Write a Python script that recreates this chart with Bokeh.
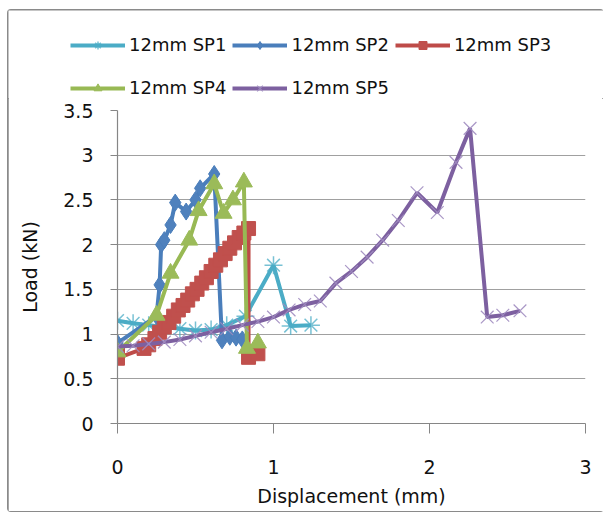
from bokeh.plotting import figure
from bokeh.layouts import column
from bokeh.models import Legend, LegendItem, Range1d, FixedTicker, NumeralTickFormatter
from bokeh.embed import file_html
from bokeh.resources import INLINE

# ---- data (Displacement mm, Load kN) ----
sp1_x = [0, 0.1, 0.2, 0.3, 0.4, 0.5, 0.6, 0.7, 0.82, 1.0, 1.11, 1.24]
sp1_y = [1.15, 1.12, 1.1, 1.08, 1.06, 1.04, 1.05, 1.1, 1.2, 1.77, 1.09, 1.1]

sp2_x = [0, 0.25, 0.27, 0.28, 0.3, 0.34, 0.37, 0.44, 0.5, 0.53, 0.62, 0.67, 0.72, 0.76, 0.8]
sp2_y = [0.9, 1.2, 1.55, 2.0, 2.05, 2.22, 2.47, 2.37, 2.5, 2.63, 2.79, 0.93, 0.97, 0.96, 0.94]

sp3_x = [0, 0, 0.17, 0.2, 0.24, 0.27, 0.3, 0.33, 0.36, 0.39, 0.42, 0.45, 0.48, 0.51, 0.54,
         0.57, 0.6, 0.63, 0.66, 0.69, 0.72, 0.75, 0.78, 0.81, 0.84, 0.84, 0.9]
sp3_y = [0.78, 0.73, 0.84, 0.88, 0.95, 1.02, 1.08, 1.13, 1.2, 1.27, 1.32, 1.38, 1.45, 1.5, 1.57,
         1.63, 1.7, 1.77, 1.83, 1.9, 1.96, 2.02, 2.08, 2.13, 2.18, 0.74, 0.78]

sp4_x = [0, 0.25, 0.34, 0.46, 0.52, 0.62, 0.68, 0.74, 0.81, 0.83, 0.9]
sp4_y = [0.8, 1.21, 1.68, 2.05, 2.38, 2.68, 2.35, 2.5, 2.7, 0.84, 0.9]

sp5_x = [0, 0.1, 0.2, 0.3, 0.4, 0.5, 0.6, 0.7, 0.8, 0.9, 1.0, 1.1, 1.2, 1.3, 1.4, 1.5,
         1.6, 1.7, 1.8, 1.92, 2.05, 2.17, 2.26, 2.37, 2.47, 2.58]
sp5_y = [0.86, 0.87, 0.89, 0.91, 0.94, 0.98, 1.02, 1.06, 1.1, 1.14, 1.19, 1.27, 1.33, 1.37, 1.57, 1.7,
         1.86, 2.05, 2.27, 2.58, 2.36, 2.92, 3.3, 1.19, 1.21, 1.26]

labels = ["12mm SP1", "12mm SP2", "12mm SP3", "12mm SP4", "12mm SP5"]
x_ticks = [0, 1, 2, 3]
y_ticks = [0, 0.5, 1, 1.5, 2, 2.5, 3, 3.5]

FONT = "DejaVu Sans"
LINE_W = 4

# ---- main plot ----
p = figure(width=595, height=413, output_backend="svg", toolbar_location=None,
           x_range=Range1d(0, 3), y_range=Range1d(0, 3.5),
           min_border_left=109, min_border_right=18, min_border_top=12, min_border_bottom=88)
p.frame_align = False
p.outline_line_color = None
p.xgrid.visible = False
p.ygrid.grid_line_color = "#a0a0a0"
p.ygrid.grid_line_width = 1.2
p.ygrid.ticker = FixedTicker(ticks=y_ticks)

p.xaxis.ticker = FixedTicker(ticks=x_ticks)
p.yaxis.ticker = FixedTicker(ticks=y_ticks)
p.yaxis.formatter = NumeralTickFormatter(format="0.[0]")
for ax in (p.xaxis[0], p.yaxis[0]):
    ax.axis_line_color = "#868686"
    ax.axis_line_width = 1.2
    ax.major_tick_line_color = "#868686"
    ax.major_tick_in = 0
    ax.minor_tick_line_color = None
    ax.major_label_text_font = FONT
    ax.major_label_text_font_size = "19px"
    ax.major_label_text_color = "#111111"
    ax.axis_label_text_font = FONT
    ax.axis_label_text_font_size = "19px"
    ax.axis_label_text_font_style = "normal"
    ax.axis_label_text_color = "#111111"
p.xaxis.major_tick_out = 10
p.xaxis.major_label_standoff = 26
p.xaxis.axis_label = "Displacement (mm)"
p.xaxis.axis_label_standoff = 8
p.yaxis.major_tick_out = 7
p.yaxis.major_label_standoff = 17
p.yaxis.axis_label = "Load (kN)"
p.yaxis.axis_label_standoff = 19

# style per series: line colour, marker, size, marker line colour, marker fill, marker line width, alpha
styles = [
    ("#4BACC6", "asterisk", 18, "#4BACC6", None, 1.5, 0.75),
    ("#4A7EBB", "diamond", 17, "#4A7EBB", "#4F81BD", 1, 1.0),
    ("#BE4B48", "square", 14, "#C0504D", "#C0504D", 1, 1.0),
    ("#98B954", "triangle", 17, "#9BBB59", "#9BBB59", 1, 1.0),
    ("#7D60A0", "x", 18, "#A08CC0", None, 1.2, 0.9),
]
data = [(sp1_x, sp1_y), (sp2_x, sp2_y), (sp3_x, sp3_y), (sp4_x, sp4_y), (sp5_x, sp5_y)]

for (xs, ys), (lc, mk, sz, mlc, mfc, mlw, malpha) in zip(data, styles):
    p.line(xs, ys, line_color=lc, line_width=LINE_W)
    p.scatter(xs, ys, marker=mk, size=sz, line_color=mlc, fill_color=mfc,
              line_width=mlw, line_alpha=malpha)

# ---- legend strip above the plot (series drawn off-screen, only the legend shows) ----
lf = figure(width=595, height=88, output_backend="svg", toolbar_location=None,
            x_range=Range1d(100, 101), y_range=Range1d(100, 101),
            x_axis_type=None, y_axis_type=None,
            min_border_left=0, min_border_right=0, min_border_top=0, min_border_bottom=0)
lf.frame_align = False
lf.outline_line_color = None
lf.xgrid.visible = False
lf.ygrid.visible = False

items = []
for lab, (xs, ys), (lc, mk, sz, mlc, mfc, mlw, malpha) in zip(labels, data, styles):
    l = lf.line(xs, ys, line_color=lc, line_width=LINE_W)
    s = lf.scatter(xs, ys, marker=mk, size=sz, line_color=mlc, fill_color=mfc,
                   line_width=mlw, line_alpha=malpha)
    items.append(LegendItem(label=lab, renderers=[l, s]))


def make_legend(its, vy):
    return Legend(items=its, orientation="horizontal", location=(62, vy),
                  glyph_width=55, glyph_height=20, label_height=20,
                  label_standoff=4, spacing=6, padding=0, margin=0,
                  border_line_color=None, background_fill_alpha=0,
                  label_text_font=FONT, label_text_font_size="18px",
                  label_text_color="#111111", label_text_baseline="middle")


lf.add_layout(make_legend(items[:3], 43))
lf.add_layout(make_legend(items[3:], 0))

layout = column(lf, p, spacing=0, margin=(10, 0, 3, 8),
                styles={"outline": "2px solid #8a8a8a", "outline-offset": "-1px",
                        "border-radius": "3px"})

open("out.html", "w").write(file_html(layout, INLINE))
